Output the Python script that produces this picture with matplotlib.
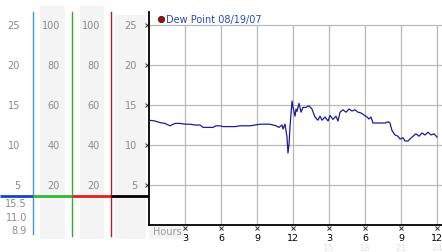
import matplotlib
matplotlib.use("Agg")
import matplotlib.pyplot as plt
from matplotlib.patches import Rectangle

# ---------------- data ----------------
hours = [0.0, 0.5, 0.92, 1.33, 1.75, 2.17, 2.58, 3.0, 3.42, 3.83, 4.25, 4.5, 4.92,
         5.33, 5.58, 5.92, 6.17, 6.42, 6.75, 7.17, 7.58, 8.0, 8.42, 8.83, 9.25,
         9.67, 10.08, 10.33, 10.58, 10.83, 11.08, 11.17, 11.33, 11.5, 11.58, 11.67,
         11.75, 11.92, 12.0, 12.17, 12.25, 12.33, 12.5, 12.67, 12.83, 13.08, 13.33,
         13.58, 13.83, 14.08, 14.25, 14.42, 14.67, 14.92, 15.08, 15.33, 15.58,
         15.75, 15.92, 16.17, 16.42, 16.67, 16.92, 17.17, 17.42, 17.67, 17.92,
         18.17, 18.33, 18.5, 18.67, 18.92, 19.25, 19.67, 19.92, 20.08, 20.25, 20.5,
         20.75, 20.92, 21.17, 21.33, 21.58, 21.75, 22.0, 22.25, 22.5, 22.75, 23.0,
         23.25, 23.5, 23.75, 24.0]
dew_point = [13.1, 13.0, 12.8, 12.7, 12.4, 12.7, 12.7, 12.6, 12.6, 12.5, 12.5, 12.2,
             12.2, 12.2, 12.4, 12.4, 12.3, 12.3, 12.3, 12.3, 12.4, 12.4, 12.4, 12.5,
             12.6, 12.6, 12.6, 12.5, 12.4, 12.2, 12.5, 12.0, 12.6, 11.0, 9.0, 10.1,
             12.3, 15.5, 14.7, 13.6, 14.5, 14.2, 15.2, 14.1, 14.7, 14.7, 14.9, 14.5,
             13.5, 13.1, 13.6, 13.1, 13.5, 13.0, 13.7, 13.2, 13.6, 13.0, 14.1, 14.4,
             14.1, 14.5, 14.25, 14.4, 14.1, 14.0, 13.75, 13.5, 13.25, 13.5, 12.75,
             12.75, 12.75, 12.75, 12.9, 12.75, 11.8, 11.25, 11.1, 10.75, 10.9, 10.5,
             10.5, 10.75, 11.1, 11.4, 11.1, 11.5, 11.25, 11.6, 11.25, 11.4, 11.0]

x_ticks = [3, 6, 9, 12, 15, 18, 21, 24]
x_tick_labels = ["3", "6", "9", "12", "3", "6", "9", "12"]
x_tick_labels_2 = ["", "", "", "", "15", "18", "21", "24"]
y_ticks = [5, 10, 15, 20, 25]
temp_labels = ["5", "10", "15", "20", "25"]
hum_labels = ["20", "40", "60", "80", "100"]
stat_labels = ["15.5", "11.0", "8.9"]
stat_values = [2.75, 1.0, -0.625]
legend_label = "Dew Point 08/19/07"

# ---------------- layout ----------------
W, H = 442, 253
px_per_unit = 8.0
ax_left, ax_top, ax_bot = 149, 13, 226
ymax = (ax_bot - ax_top) / px_per_unit
xmax = (W - ax_left) / 12.0

def ypx(p):
    return (ax_bot - p) / px_per_unit

fig = plt.figure(figsize=(W / 100, H / 100), dpi=100)
fig.patch.set_facecolor("white")
plt.rcParams["font.family"] = ["DejaVu Sans"]

# left panel axes (pixel x, data y)
lax = fig.add_axes([0, (H - ax_bot) / H, ax_left / W, (ax_bot - ax_top) / H])
lax.set_xlim(0, ax_left)
lax.set_ylim(0, ymax)
lax.axis("off")

gray_bg = "#f4f4f4"
for (x0, x1, top) in [(40, 65, 7), (80, 104, 7), (115, 146, 16)]:
    lax.add_patch(Rectangle((x0, ypx(240)), x1 - x0, ypx(top) - ypx(240),
                            facecolor=gray_bg, edgecolor="none", clip_on=False, zorder=0))

lab_col = "#8a8a8a"
fs = 7
for v, t in zip(y_ticks, temp_labels):
    lax.text(20, v, t, ha="right", va="center", fontsize=fs, color=lab_col, clip_on=False)
    lax.text(137, v, t, ha="right", va="center", fontsize=fs, color=lab_col, clip_on=False)
for v, t in zip(y_ticks, hum_labels):
    lax.text(60, v, t, ha="right", va="center", fontsize=fs, color=lab_col, clip_on=False)
    lax.text(100, v, t, ha="right", va="center", fontsize=fs, color=lab_col, clip_on=False)
for v, t in zip(stat_values, stat_labels):
    lax.text(27, v, t, ha="right", va="center", fontsize=fs, color=lab_col, clip_on=False)

line_cols = ["#3a9ad0", "#33a833", "#b02020"]
for xp, c, bot in zip([33, 72, 111], line_cols, [235, 237, 237]):
    lax.plot([xp, xp], [ypx(13), ypx(bot)], color=c, lw=1.0, clip_on=False, zorder=2)

hy = ypx(197)
for (x0, x1), c in zip([(0, 33), (33, 72), (72, 111), (111, 149)],
                       ["#1a3fd0", "#33b833", "#e02020", "black"]):
    lax.plot([x0, x1], [hy, hy], color=c, lw=2.0, clip_on=False, zorder=3,
             solid_capstyle="butt")

lax.plot([146.5] * len(y_ticks), y_ticks, ls="none", marker="x", ms=2.2,
         mew=0.7, color="#333333", clip_on=False)

# main axes
ax = fig.add_axes([ax_left / W, (H - ax_bot) / H, (W - ax_left) / W, (ax_bot - ax_top) / H])
ax.set_xlim(0, xmax)
ax.set_ylim(0, ymax)
ax.add_patch(Rectangle((0, ypx(240)), 3.0, ypx(226) - ypx(240), facecolor=gray_bg,
                       edgecolor="none", clip_on=False, zorder=0))
ax.hlines(y_ticks, 0, xmax, color="#b8b8b8", lw=0.9, zorder=1)
ax.vlines(x_ticks, 0, 25, color="#b8b8b8", lw=0.9, zorder=1)
ax.plot(hours, dew_point, color="#1c1ca0", lw=0.9, zorder=3)

for s in ["top", "right"]:
    ax.spines[s].set_visible(False)
for s in ["left", "bottom"]:
    ax.spines[s].set_color("black")
    ax.spines[s].set_linewidth(1.3)
ax.set_yticks([])
ax.set_xticks(x_ticks, x_tick_labels)
ax.tick_params(axis="x", length=0, pad=5.5, labelsize=6.8, colors="black")

ax.plot(x_ticks, [ypx(229)] * len(x_ticks), ls="none", marker="x", ms=2.2, mew=0.7,
        color="#333333", clip_on=False)
for x, t in zip(x_ticks, x_tick_labels_2):
    if t:
        ax.text(x, ypx(248.5), t, ha="center", va="center", fontsize=6.5,
                color="#e4e4e4", clip_on=False)
ax.text(0.33, ypx(232), "Hours", ha="left", va="center", fontsize=fs,
        color="#9a9a9a", clip_on=False)

# legend
ax.plot([1.0], [ypx(20)], marker="o", ms=4.5, color="#a01010", mec="#501010",
        mew=0.6, ls="none", clip_on=False)
ax.text(1.42, ypx(20), legend_label, ha="left", va="center", fontsize=7,
        color="#2a48c0", clip_on=False)

fig.savefig("out.png", dpi=100)
